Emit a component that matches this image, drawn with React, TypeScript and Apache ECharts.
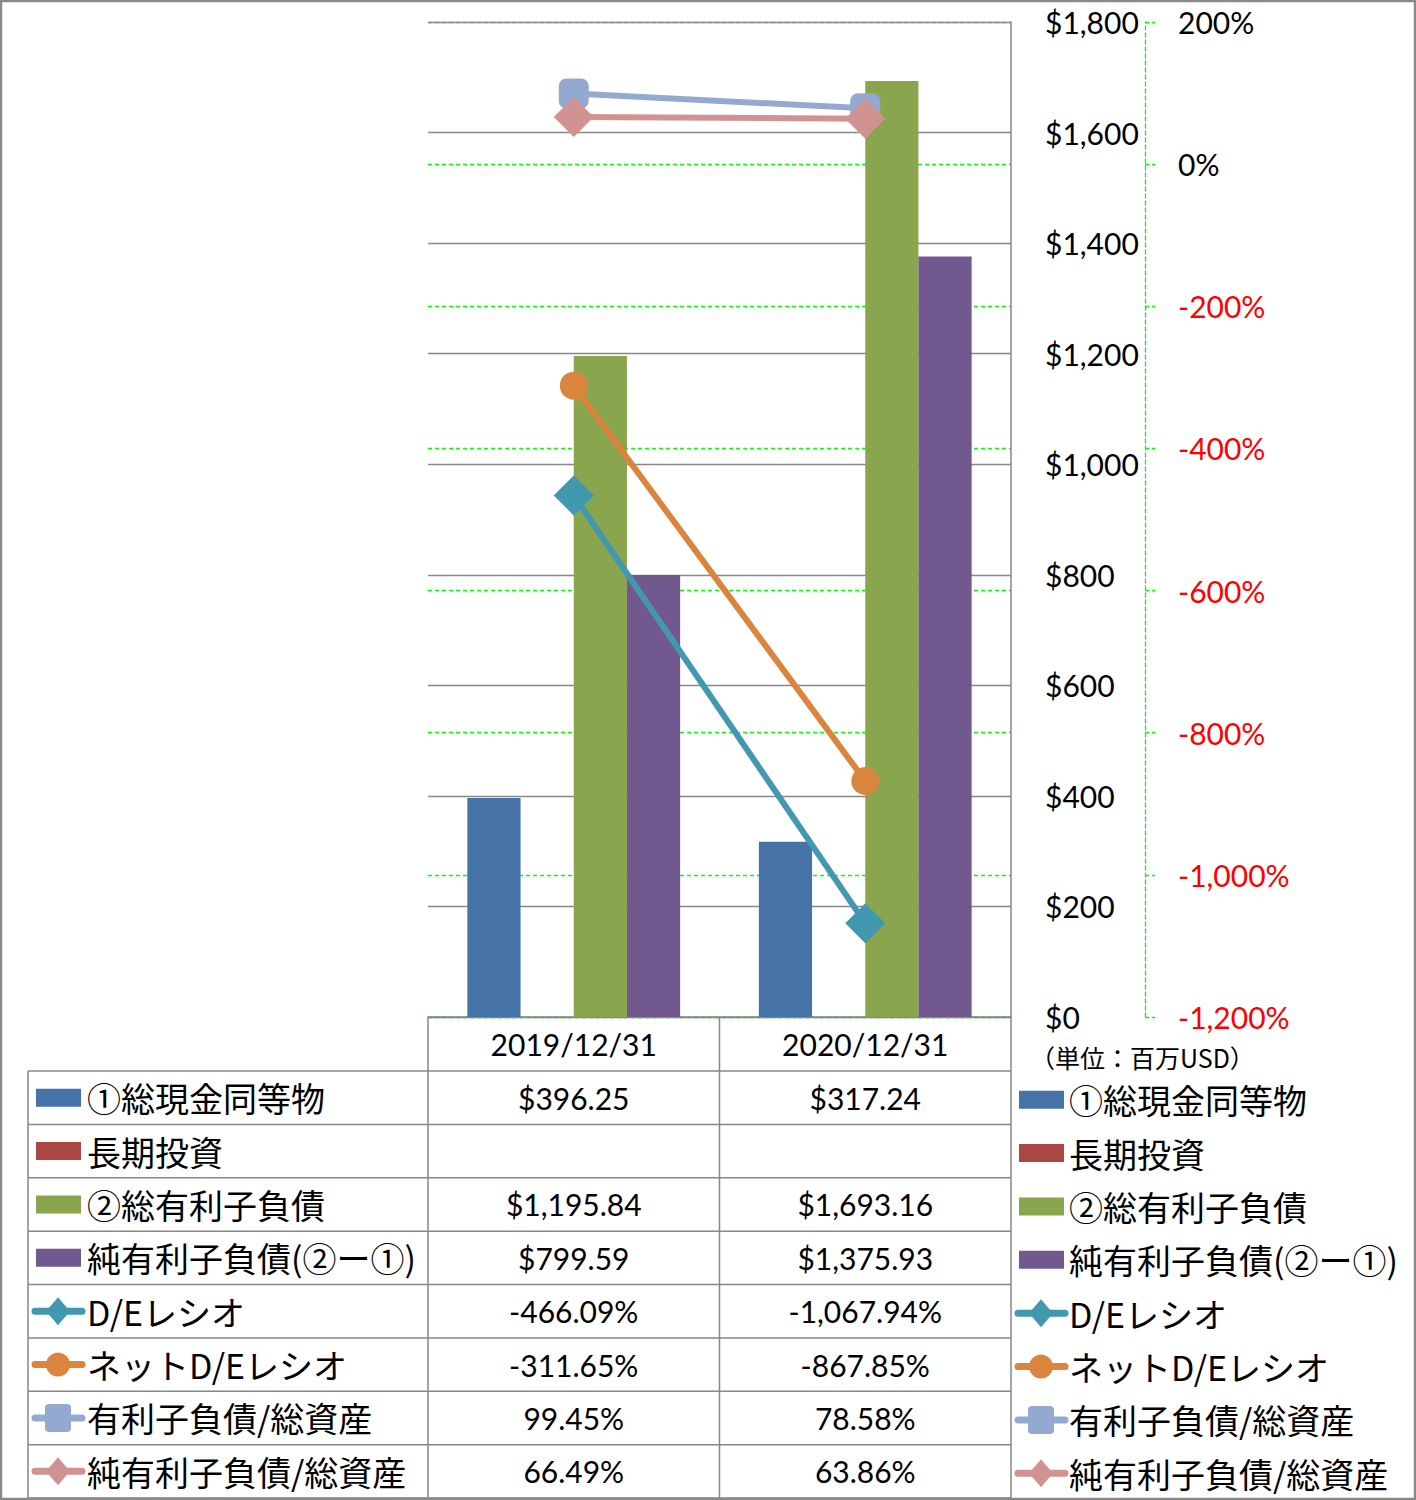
import React, { useEffect, useRef } from "react";
import * as echarts from "echarts";

// ---------- data ----------
const categories = ["2019/12/31", "2020/12/31"];
const cashEquivalents = [396.25, 317.24];
const longTermInvestments: (number | null)[] = [null, null];
const totalDebt = [1195.84, 1693.16];
const netDebt = [799.59, 1375.93];
const deRatio = [-466.09, -1067.94];
const netDeRatio = [-311.65, -867.85];
const debtToAssets = [99.45, 78.58];
const netDebtToAssets = [66.49, 63.86];

const seriesNames = [
  "①総現金同等物",
  "長期投資",
  "②総有利子負債",
  "純有利子負債(②ー①)",
  "D/Eレシオ",
  "ネットD/Eレシオ",
  "有利子負債/総資産",
  "純有利子負債/総資産",
];
const unitLabel = "（単位：百万USD）";

// ---------- styles / layout ----------
const W = 1416;
const H = 1500;
const PLOT_L = 428;
const PLOT_R = 1011;
const PLOT_T = 22;
const PLOT_B = 1017;
const TABLE_L = 28;
const HEADER_B = 1071;
const ROW_H = 53.375;
const COL_W = (PLOT_R - PLOT_L) / 2;
const GRID_GREY = "#878787";
const GREEN = "#00FF00";
const LATIN = "Lato, 'Noto Sans CJK JP', sans-serif";
const JP = "'Noto Sans CJK JP', sans-serif";
const NAME_SIZE = 34;

type Def = {
  name: string;
  kind: "bar" | "line";
  color: string;
  symbol?: "diamond" | "circle" | "square";
  data: (number | null)[];
  unit: "$" | "%";
};

const defs: Def[] = [
  { name: seriesNames[0], kind: "bar", color: "#4572A7", data: cashEquivalents, unit: "$" },
  { name: seriesNames[1], kind: "bar", color: "#AA4643", data: longTermInvestments, unit: "$" },
  { name: seriesNames[2], kind: "bar", color: "#89A54E", data: totalDebt, unit: "$" },
  { name: seriesNames[3], kind: "bar", color: "#71588F", data: netDebt, unit: "$" },
  { name: seriesNames[4], kind: "line", color: "#4198AF", symbol: "diamond", data: deRatio, unit: "%" },
  { name: seriesNames[5], kind: "line", color: "#DB843D", symbol: "circle", data: netDeRatio, unit: "%" },
  { name: seriesNames[6], kind: "line", color: "#93A9CF", symbol: "square", data: debtToAssets, unit: "%" },
  { name: seriesNames[7], kind: "line", color: "#D19392", symbol: "diamond", data: netDebtToAssets, unit: "%" },
];

const fmtNum = (v: number, digits: number) =>
  v.toLocaleString("en-US", { minimumFractionDigits: digits, maximumFractionDigits: digits });

const fmtCell = (v: number | null, unit: "$" | "%") => {
  if (v === null || v === undefined) return "";
  return unit === "$" ? "$" + fmtNum(v, 2) : fmtNum(v, 2) + "%";
};

function legendIcon(d: Def, x0: number, cy: number): any[] {
  if (d.kind === "bar") {
    return [{ type: "rect", shape: { x: x0, y: cy - 9, width: 45, height: 18 }, style: { fill: d.color }, silent: true }];
  }
  const mx = x0 + 22;
  const out: any[] = [
    {
      type: "line",
      shape: { x1: x0 - 1, y1: cy, x2: x0 + 46, y2: cy },
      style: { stroke: d.color, lineWidth: 7, lineCap: "round" },
      silent: true,
    },
  ];
  if (d.symbol === "diamond") {
    out.push({
      type: "polygon",
      shape: { points: [[mx, cy - 14], [mx + 12, cy], [mx, cy + 14], [mx - 12, cy]] },
      style: { fill: d.color },
      silent: true,
    });
  } else if (d.symbol === "circle") {
    out.push({ type: "circle", shape: { cx: mx, cy, r: 12 }, style: { fill: d.color }, silent: true });
  } else {
    out.push({
      type: "rect",
      shape: { x: mx - 13, y: cy - 14, width: 26, height: 28, r: 4 },
      style: { fill: d.color },
      silent: true,
    });
  }
  return out;
}

export default function App() {
  const ref = useRef<HTMLDivElement>(null);

  useEffect(() => {
    if (!ref.current) return;
    const chart = echarts.init(ref.current, null, { renderer: "svg" });

    const graphic: any[] = [];
    // outer border
    graphic.push({
      type: "rect",
      shape: { x: 1, y: 1, width: W - 2, height: H - 2 },
      style: { fill: "none", stroke: "#898989", lineWidth: 2.5 },
      silent: true,
      z: 10,
    });
    // table horizontal lines
    for (let i = 0; i <= defs.length; i++) {
      const y = HEADER_B + i * ROW_H;
      graphic.push({
        type: "line",
        shape: { x1: TABLE_L, y1: y, x2: PLOT_R, y2: y },
        style: { stroke: GRID_GREY, lineWidth: 1.5 },
        silent: true,
      });
    }
    // table vertical lines
    graphic.push({
      type: "line",
      shape: { x1: TABLE_L, y1: HEADER_B, x2: TABLE_L, y2: HEADER_B + defs.length * ROW_H },
      style: { stroke: GRID_GREY, lineWidth: 1.5 },
      silent: true,
    });
    [PLOT_L, PLOT_L + COL_W, PLOT_R].forEach((x) => {
      graphic.push({
        type: "line",
        shape: { x1: x, y1: PLOT_B, x2: x, y2: HEADER_B + defs.length * ROW_H },
        style: { stroke: GRID_GREY, lineWidth: 1.5 },
        silent: true,
      });
    });
    // table rows
    defs.forEach((d, i) => {
      const cy = HEADER_B + ROW_H * (i + 0.5);
      graphic.push(...legendIcon(d, 36, cy));
      graphic.push({
        type: "text",
        x: 87,
        y: cy,
        style: { text: d.name, fontSize: NAME_SIZE, fontFamily: JP, fill: "#000", textVerticalAlign: "middle" },
        silent: true,
      });
      categories.forEach((_, j) => {
        graphic.push({
          type: "text",
          x: PLOT_L + COL_W * (j + 0.5),
          y: cy,
          style: {
            text: fmtCell(d.data[j], d.unit),
            fontSize: 30,
            fontFamily: LATIN,
            fill: "#000",
            textAlign: "center",
            textVerticalAlign: "middle",
          },
          silent: true,
        });
      });
      // right-hand legend
      const ly = cy + 2;
      graphic.push(...legendIcon(d, 1019, ly));
      graphic.push({
        type: "text",
        x: 1069,
        y: ly,
        style: { text: d.name, fontSize: NAME_SIZE, fontFamily: JP, fill: "#000", textVerticalAlign: "middle" },
        silent: true,
      });
    });
    // unit label
    graphic.push({
      type: "text",
      x: 1030,
      y: 1057,
      style: { text: unitLabel, fontSize: 25, fontFamily: JP, fill: "#000", textVerticalAlign: "middle" },
      silent: true,
    });

    const series: any[] = defs.map((d) => {
      if (d.kind === "bar") {
        return {
          name: d.name,
          type: "bar",
          yAxisIndex: 0,
          data: d.data,
          barGap: "0%",
          barCategoryGap: "27%",
          itemStyle: { color: d.color },
        };
      }
      return {
        name: d.name,
        type: "line",
        yAxisIndex: 1,
        data: d.data,
        symbol: d.symbol === "square" ? "roundRect" : d.symbol,
        symbolSize: d.symbol === "diamond" ? 40 : d.symbol === "circle" ? 28 : 30,
        lineStyle: { color: d.color, width: 6 },
        itemStyle: { color: d.color },
        z: 5,
      };
    });

    chart.setOption({
      animation: false,
      backgroundColor: "#fff",
      grid: { left: PLOT_L, right: W - PLOT_R, top: PLOT_T, bottom: H - PLOT_B, containLabel: false },
      xAxis: {
        type: "category",
        data: categories,
        z: 1,
        axisLine: { show: true, lineStyle: { color: GRID_GREY, width: 1.5 } },
        axisTick: { show: false },
        axisLabel: { fontSize: 30, fontFamily: LATIN, color: "#000", margin: 12, lineHeight: 30 },
      },
      yAxis: [
        {
          type: "value",
          position: "right",
          min: 0,
          max: 1800,
          interval: 200,
          z: 1,
          axisLine: { show: true, lineStyle: { color: GRID_GREY, width: 1.5 } },
          axisTick: { show: false },
          axisLabel: {
            margin: 34,
            fontSize: 30,
            fontFamily: LATIN,
            color: "#000",
            formatter: (v: number) => "$" + v.toLocaleString("en-US"),
          },
          splitLine: { show: true, lineStyle: { color: GRID_GREY, width: 1.3 } },
        },
        {
          type: "value",
          position: "right",
          offset: 134,
          min: -1200,
          max: 200,
          interval: 200,
          z: 0,
          axisLine: { show: true, lineStyle: { color: GREEN, width: 1.3, type: [4, 3] } },
          axisTick: { show: true, length: 10, lineStyle: { color: GREEN, width: 1.3, type: [4, 3] } },
          axisLabel: {
            margin: 33,
            fontSize: 30,
            fontFamily: LATIN,
            color: (v: any) => (Number(v) < 0 ? "#FF0000" : "#000"),
            formatter: (v: number) => v.toLocaleString("en-US") + "%",
          },
          splitLine: { show: true, lineStyle: { color: GREEN, width: 1.3, type: [4, 3] } },
        },
      ],
      series,
      graphic,
    });

    return () => chart.dispose();
  }, []);

  return (
    <div
      ref={ref}
      style={{ position: "absolute", left: 0, top: 0, width: W, height: H, background: "#fff" }}
    />
  );
}
